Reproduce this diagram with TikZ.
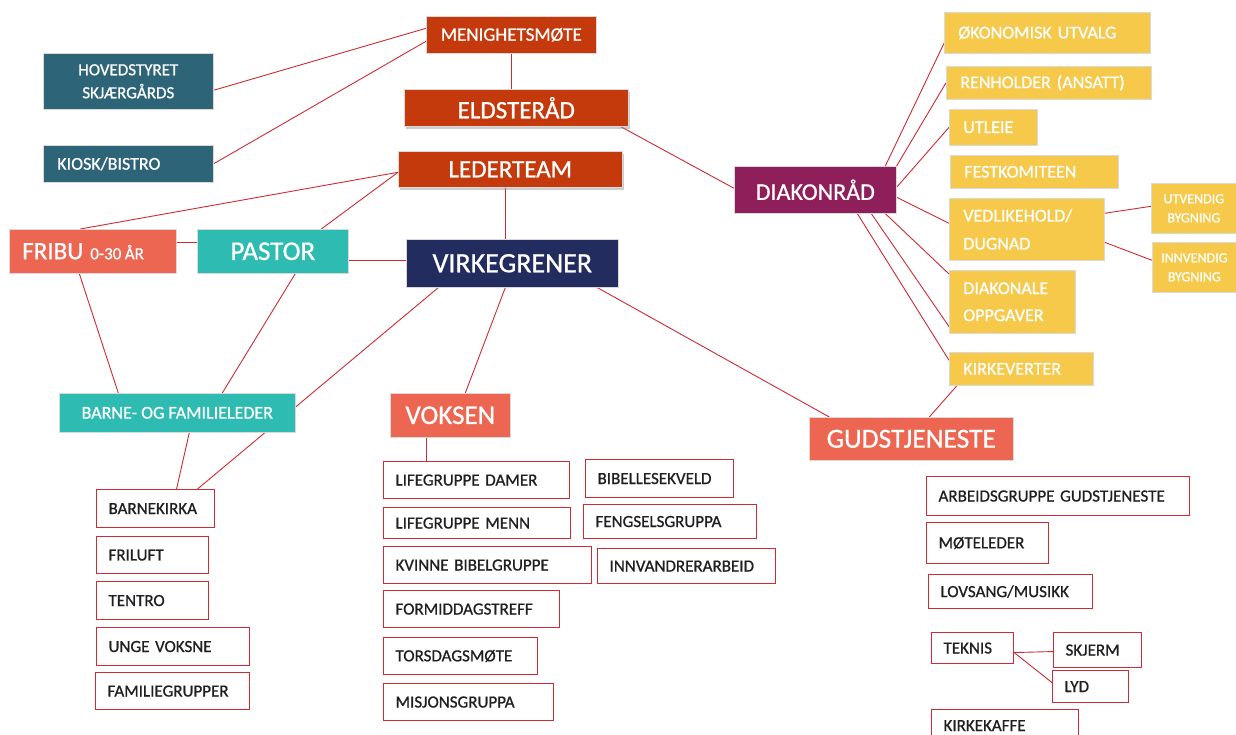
\documentclass[tikz,border=0pt]{standalone}
\usepackage{fontspec}
\setmainfont{Carlito}[FakeBold=0.8]
\usepackage{tikz}
\usetikzlibrary{backgrounds,shadows}

\definecolor{rust}{RGB}{196,58,12}
\definecolor{navy}{RGB}{35,44,94}
\definecolor{petrol}{RGB}{46,100,120}
\definecolor{turq}{RGB}{45,187,178}
\definecolor{coral}{RGB}{236,102,82}
\definecolor{plum}{RGB}{142,31,90}
\definecolor{mustard}{RGB}{246,201,75}
\definecolor{linkred}{RGB}{208,42,52}

\newcommand\fsz[1]{\fontsize{#1pt}{#1pt}\selectfont}

\tikzset{
  hdr/.style={fill=#1, text=white, draw=white!85!black, line width=0.6pt, anchor=north west, inner sep=0pt},
  duty/.style={fill=mustard, text=white, draw=white!85!black, line width=0.6pt, anchor=north west,
    inner xsep=14pt, inner ysep=0pt, align=left, font=\fsz{18}},
  task/.style={fill=white, draw=linkred, line width=1.1pt, anchor=north west,
    inner xsep=12pt, inner ysep=0pt, align=left, text=black!88, font=\fsz{17}},
  link/.style={draw=linkred, line width=0.9pt},
  lift/.style={drop shadow={shadow xshift=1.5pt, shadow yshift=-2.5pt, opacity=0.4}}
}

\begin{document}
\begin{tikzpicture}[x=1pt, y=1pt]

\useasboundingbox (0,0) rectangle (1236,-735);
\clip (0,0) rectangle (1236,-735);

% Define nodes
\node[hdr=rust, minimum width=170pt, minimum height=37pt, font=\fsz{19}] (menig) at (426,-16) {MENIGHETSMØTE};
\node[hdr=petrol, minimum width=170pt, minimum height=56pt, align=center, font=\fontsize{17pt}{23pt}\selectfont] (hoved) at (43,-53) {HOVEDSTYRET\\SKJÆRGÅRDS};
\node[hdr=petrol, minimum height=37pt, inner xsep=14pt, text width=142pt, align=left, font=\fsz{18}] (kiosk) at (43,-145) {KIOSK/BISTRO};
\node[hdr=rust, lift, minimum width=224pt, minimum height=37pt, font=\fsz{25}] (elder) at (404,-89) {ELDSTERÅD};
\node[hdr=rust, lift, minimum width=224pt, minimum height=36pt, font=\fsz{25}] (leder) at (398,-151) {LEDERTEAM};
\node[hdr=coral, minimum height=44pt, inner xsep=13pt, text width=141pt, align=left, font=\fsz{25}] (fribu) at (9,-229) {FRIBU\hspace{7pt}{\fsz{17}0-30\hspace{3.5pt}ÅR}};
\node[hdr=turq, minimum width=151pt, minimum height=44pt, font=\fsz{27}] (pastor) at (197,-229) {PASTOR};
\node[hdr=navy, minimum width=212pt, minimum height=48pt, font=\fsz{28}] (virke) at (406,-239) {VIRKEGRENER};
\node[hdr=plum, minimum width=162pt, minimum height=47pt, font=\fsz{24}] (diakon) at (734,-166) {DIAKONRÅD};
\node[hdr=turq, minimum width=236pt, minimum height=39pt, font=\fsz{18}] (barne) at (59,-393) {BARNE- OG FAMILIELEDER};
\node[hdr=coral, minimum width=120pt, minimum height=44pt, font=\fsz{27}] (voksen) at (390,-393) {VOKSEN};
\node[hdr=coral, minimum width=204pt, minimum height=43pt, font=\fsz{27.5}] (guds) at (809,-417) {GUDSTJENESTE};

% Diakonråd groups
\node[duty, text width=178pt, minimum height=41pt] (okon) at (944,-12) {ØKONOMISK UTVALG};
\node[duty, text width=177pt, minimum height=33pt] (renh) at (946,-66) {RENHOLDER (ANSATT)};
\node[duty, text width=60pt, minimum height=36pt] (utleie) at (949,-109) {UTLEIE};
\node[duty, text width=140pt, minimum height=33pt] (fest) at (950,-155) {FESTKOMITEEN};
\node[duty, text width=127pt, minimum height=62pt, font=\fontsize{18pt}{28pt}\selectfont] (vedl) at (949,-198) {VEDLIKEHOLD/\\DUGNAD};
\node[duty, text width=98pt, minimum height=63pt, font=\fontsize{18pt}{27pt}\selectfont] (diakonale) at (949,-270) {DIAKONALE\\OPPGAVER};
\node[duty, text width=116pt, minimum height=33pt] (kirkev) at (949,-352) {KIRKEVERTER};
\node[duty, inner xsep=0pt, text width=85pt, align=center, minimum height=50pt, font=\fontsize{14pt}{19pt}\selectfont] (utv) at (1151,-183) {UTVENDIG\\BYGNING};
\node[duty, inner xsep=0pt, text width=84pt, align=center, minimum height=50pt, font=\fontsize{14pt}{19pt}\selectfont] (innv) at (1152,-242) {INNVENDIG\\BYGNING};

% Barn og familie
\node[task, text width=94pt, minimum height=38pt] (barnekirka) at (96,-489) {BARNEKIRKA};
\node[task, text width=88pt, minimum height=37pt] (friluft) at (96,-536) {FRILUFT};
\node[task, text width=88pt, minimum height=38pt] (tentro) at (96,-581) {TENTRO};
\node[task, text width=129pt, minimum height=38pt] (unge) at (96,-627) {UNGE VOKSNE};
\node[task, text width=130pt, minimum height=37pt] (famgr) at (95,-672) {FAMILIEGRUPPER};

% Voksen
\node[task, text width=162pt, minimum height=37pt] (lifed) at (383,-461) {LIFEGRUPPE DAMER};
\node[task, text width=163pt, minimum height=31pt] (lifem) at (383,-507) {LIFEGRUPPE MENN};
\node[task, text width=184pt, minimum height=37pt] (kvinne) at (383,-546) {KVINNE BIBELGRUPPE};
\node[task, text width=152pt, minimum height=37pt] (formid) at (383,-590) {FORMIDDAGSTREFF};
\node[task, text width=130pt, minimum height=37pt] (torsd) at (383,-637) {TORSDAGSMØTE};
\node[task, text width=146pt, minimum height=37pt] (misj) at (383,-683) {MISJONSGRUPPA};
\node[task, text width=124pt, minimum height=38pt] (bibel) at (585,-459) {BIBELLESEKVELD};
\node[task, text width=149pt, minimum height=34pt] (feng) at (583,-504) {FENGSELSGRUPPA};
\node[task, text width=154pt, minimum height=35pt] (innvandr) at (597,-548) {INNVANDRERARBEID};

% Gudstjeneste
\node[task, text width=239pt, minimum height=39pt] (arbeid) at (926,-476) {ARBEIDSGRUPPE GUDSTJENESTE};
\node[task, text width=98pt, minimum height=41pt] (motel) at (926,-522) {MØTELEDER};
\node[task, text width=140pt, minimum height=34pt] (lovsang) at (928,-574) {LOVSANG/MUSIKK};
\node[task, text width=58pt, minimum height=31pt] (teknis) at (931,-632) {TEKNIS};
\node[task, text width=64pt, minimum height=35pt] (skjerm) at (1053,-632) {SKJERM};
\node[task, text width=52pt, minimum height=32pt] (lyd) at (1052,-670) {LYD};
\node[task, text width=123pt, minimum height=32pt] (kaffe) at (931,-709) {KIRKEKAFFE};

% Connect the nodes
\begin{scope}[on background layer]
\draw[link] ([yshift=-9pt]hoved.east) -- ([yshift=6.5pt]menig.west);
\draw[link] (kiosk.east) -- ([yshift=-6.5pt]menig.west);
\draw[link] (menig.south) -- (menig.south |- elder.north);
\draw[link] ([xshift=-8pt]elder.south east) -- ([yshift=1.5pt]diakon.west);
\draw[link] ([xshift=-5pt]leder.south) -- ([xshift=-5pt]leder.south |- virke.north);
\draw[link] ([xshift=-12.5pt]fribu.north) -- ([yshift=-3pt]leder.west);
\draw[link] ([xshift=48.5pt]pastor.north) -- ([yshift=-3pt]leder.west);
\draw[link] ([yshift=9pt]fribu.east) -- ([yshift=9pt]pastor.west);
\draw[link] ([yshift=-9pt]pastor.east) -- ([yshift=-9pt]pastor.east -| virke.west);
\draw[link] ([xshift=-13.5pt]fribu.south) -- ([xshift=-59pt]barne.north);
\draw[link] ([xshift=22.5pt]pastor.south) -- ([xshift=45pt]barne.north);
\draw[link] ([xshift=-74pt]virke.south) -- ([xshift=42pt]barnekirka.north);
\draw[link] ([xshift=12pt]barne.south) -- ([xshift=21pt]barnekirka.north);
\draw[link] ([xshift=-7pt]virke.south) -- ([xshift=15pt]voksen.north);
\draw[link] ([xshift=-24pt]voksen.south) -- ([xshift=-24pt]voksen.south |- lifed.north);
\draw[link] ([xshift=85pt]virke.south) -- ([xshift=-82pt]guds.north);
\draw[link] ([xshift=8pt]kirkev.south west) -- ([xshift=18pt]guds.north);
% diakonråd
\draw[link] ([xshift=70pt]diakon.north) -- ([yshift=-10.5pt]okon.west);
\draw[link] (diakon.north east) -- (renh.west);
\draw[link] ([yshift=2.5pt]diakon.east) -- (utleie.west);
\draw[link] ([yshift=-7.5pt]diakon.east) -- ([yshift=6pt]vedl.west);
\draw[link] ([xshift=70pt]diakon.south) -- ([yshift=-4pt]diakonale.north west);
\draw[link] ([xshift=56pt]diakon.south) -- ([yshift=7pt]diakonale.south west);
\draw[link] ([xshift=42pt]diakon.south) -- ([yshift=8.5pt]kirkev.west);
\draw[link] ([yshift=16pt]vedl.east) -- ([yshift=2pt]utv.west);
\draw[link] ([yshift=-13pt]vedl.east) -- ([yshift=7pt]innv.west);
% teknis
\draw[link] ([yshift=-4.5pt]teknis.east) -- ([yshift=-1.5pt]skjerm.west);
\draw[link] ([yshift=-4.5pt]teknis.east) -- ([yshift=4pt]lyd.west);
\end{scope}

\end{tikzpicture}
\end{document}
